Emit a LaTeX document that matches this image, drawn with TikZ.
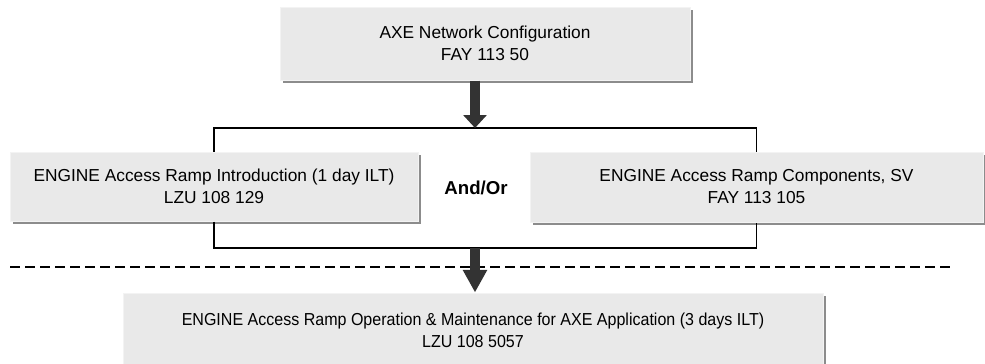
\documentclass[tikz,border=0pt]{standalone}
\usepackage{fontspec}
\setmainfont{Liberation Sans}
\newfontfamily\condensedsans[FakeStretch=0.925]{Liberation Sans}
\usetikzlibrary{arrows.meta,shadows}
\definecolor{boxfill}{HTML}{E9E9E9}
\definecolor{boxedge}{HTML}{F3F3F3}
\definecolor{shadowgray}{HTML}{8C8C8C}
\definecolor{arrowgray}{HTML}{333333}
\tikzset{
  course/.style={fill=boxfill, draw=boxedge, line width=0.75pt, align=center,
    inner sep=0pt, font=\fontsize{13pt}{16.5pt}\selectfont,
    drop shadow={shadow xshift=2.25pt, shadow yshift=-2.25pt, fill=shadowgray, opacity=1}},
  link/.style={line width=1.1pt, black},
  bigarrow/.style={draw=arrowgray, line width=7.5pt},
  sep/.style={line width=1.1pt, dash pattern=on 7.5pt off 3.75pt}
}
\begin{document}
\begin{tikzpicture}[x=0.75pt,y=-0.75pt]
\useasboundingbox (0,0) rectangle (985,364);
\node[course, minimum width=307.5pt, minimum height=54.75pt] (top) at (485,43.5)
  {AXE Network Configuration\\FAY 113 50};
\node[course, minimum width=306pt, minimum height=51.75pt] (left) at (214,186.5)
  {ENGINE Access Ramp Introduction (1 day ILT)\\LZU 108 129};
\node[course, minimum width=339.75pt, minimum height=52.5pt] (right) at (756.5,187)
  {ENGINE Access Ramp Components, SV\\FAY 113 105};
\node[course, minimum width=525pt, minimum height=56.25pt,
  font=\condensedsans\fontsize{13pt}{16.5pt}\selectfont] (bottom) at (473,330.5)
  {ENGINE Access Ramp Operation \& Maintenance for AXE Application (3 days ILT)\\LZU 108 5057};
\node[font=\fontsize{14pt}{16pt}\selectfont\bfseries] (andor) at (476,188) {And/Or};
\coordinate (hj) at (475,128);
\coordinate (bj) at (475,248);
\coordinate (d1) at (10,267);
\coordinate (d2) at (955,267);
\draw[link] (left.north) |- (hj) -| (right.north);
\draw[link] (left.south) |- (bj) -| (right.south);
\draw[sep] (d1) -- (d2);
\draw[bigarrow, -{Triangle[width=17.25pt,length=9.75pt]}] (top.south -| hj) -- (hj);
\draw[bigarrow, -{Triangle[width=17.25pt,length=17pt]}] (bj) -- (bottom.north -| bj);
\end{tikzpicture}
\end{document}
